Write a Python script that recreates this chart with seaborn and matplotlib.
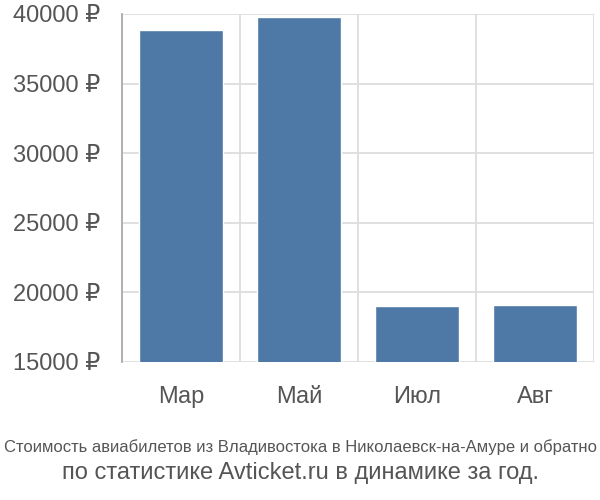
import matplotlib
matplotlib.use("Agg")
import matplotlib.pyplot as plt
from matplotlib.ticker import FixedLocator, FuncFormatter
import seaborn as sns
import pandas as pd

categories = ["Мар", "Май", "Июл", "Авг"]
prices = [38850, 39820, 19020, 19120]
y_ticks = [15000, 20000, 25000, 30000, 35000, 40000]

df = pd.DataFrame({"month": categories, "price": prices})

sns.set_style("white")
plt.rcParams['font.family'] = ['Liberation Sans', 'DejaVu Sans']

fig = plt.figure(figsize=(6, 5), dpi=100)
ax = fig.add_axes([122/600, 138/500, (594-122)/600, (362-14)/500])

sns.barplot(data=df, x="month", y="price", color="#4e79a7", width=0.72,
            saturation=1, ax=ax, zorder=3)

ax.set_ylim(15000, 40000)
ax.set_xlim(-0.5, 3.5)
ax.set_yticks(y_ticks)
ax.yaxis.set_major_formatter(FuncFormatter(lambda v, p: f"{int(v)} ₽"))
ax.xaxis.set_minor_locator(FixedLocator([-0.5, 0.5, 1.5, 2.5, 3.5]))

ax.grid(True, axis="y", color="#dddddd", linewidth=1.3, zorder=0)
ax.grid(True, axis="x", which="minor", color="#dddddd", linewidth=1.3, zorder=0)
ax.set_axisbelow(True)

ax.tick_params(axis="x", which="major", length=0, pad=17, labelsize=17, labelcolor="#555555")
ax.tick_params(axis="x", which="minor", length=13, width=1.3, color="#dddddd", direction="out")
ax.tick_params(axis="y", length=16, width=1.3, color="#dddddd", pad=0, labelsize=17, labelcolor="#555555")

for s in ["top", "right", "bottom"]:
    ax.spines[s].set_visible(False)
ax.spines["left"].set_color("#aaaaaa")
ax.spines["left"].set_linewidth(1.3)
ax.set_xlabel("")
ax.set_ylabel("")

fig.text(0.5, 1 - 447/500, "Стоимость авиабилетов из Владивостока в Николаевск-на-Амуре и обратно",
         ha="center", va="center", fontsize=12, color="#555555")
fig.text(0.5, 1 - 473/500, "по статистике Avticket.ru в динамике за год.",
         ha="center", va="center", fontsize=17, color="#555555")

fig.savefig("out.png", dpi=100)
